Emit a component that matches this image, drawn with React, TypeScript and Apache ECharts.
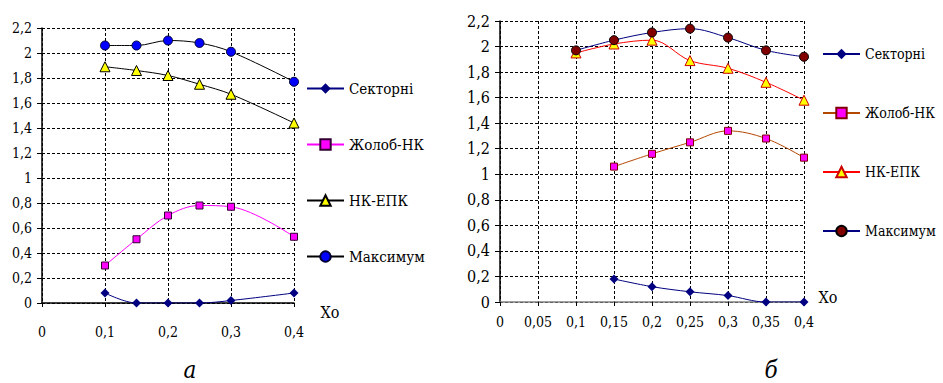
import React, { useEffect, useRef } from 'react';
import * as echarts from 'echarts';

const seriesNames = ['Секторні', 'Жолоб-НК', 'НК-ЕПК', 'Максимум'];

const xLeft = [0.1, 0.15, 0.2, 0.25, 0.3, 0.4];
const leftSektorni = [0.08, 0, 0, 0, 0.02, 0.08];
const leftZholob = [0.3, 0.51, 0.7, 0.78, 0.77, 0.53];
const leftNkEpk = [1.89, 1.86, 1.82, 1.75, 1.67, 1.44];
const leftMaksymum = [2.06, 2.06, 2.1, 2.08, 2.01, 1.77];

const xRight = [0.1, 0.15, 0.2, 0.25, 0.3, 0.35, 0.4];
const rightSektorni = [null, 0.18, 0.12, 0.08, 0.05, 0, 0];
const rightZholob = [null, 1.06, 1.16, 1.25, 1.34, 1.28, 1.13];
const rightNkEpk = [1.95, 2.02, 2.05, 1.89, 1.83, 1.72, 1.58];
const rightMaksymum = [1.97, 2.05, 2.11, 2.14, 2.07, 1.97, 1.92];

const axisTitle = 'Xo';
const panelLabels = ['а', 'б'];

const FONT = 'DejaVu Serif Condensed, DejaVu Serif';

const fmt = (v: number) => Number(v.toFixed(2)).toString().replace('.', ',');

const pairs = (xs: number[], ys: (number | null)[]) =>
  xs.map((x, i) => [x, ys[i]]).filter((p) => p[1] !== null);

type Style = {
  symbol: string;
  size: number;
  fill: string;
  border: string;
  borderWidth: number;
  line: string;
};

const makeSeries = (name: string, data: any[], s: Style) => ({
  type: 'line',
  name,
  data,
  smooth: 0.35,
  symbol: s.symbol,
  symbolSize: s.size,
  showSymbol: true,
  lineStyle: { color: s.line, width: 1 },
  itemStyle: { color: s.fill, borderColor: s.border, borderWidth: s.borderWidth },
  emphasis: { disabled: true },
  z: 3,
});

const dashed = { lineStyle: { color: '#000', type: [3, 2], width: 1 } };

function buildOption(cfg: {
  gridLeft: number; gridTop: number; gridWidth: number; gridHeight: number;
  xInterval: number; xAxisColor: string; yFont: number; xFont: number; xMargin: number;
  legendLeft: number; legendTop: number; legendGap: number; legendFont: number;
  series: any[]; graphic: any[];
}) {
  return {
    animation: false,
    backgroundColor: 'transparent',
    textStyle: { fontFamily: FONT },
    grid: { left: cfg.gridLeft, top: cfg.gridTop, width: cfg.gridWidth, height: cfg.gridHeight },
    xAxis: {
      type: 'value',
      min: 0,
      max: 0.4,
      interval: cfg.xInterval,
      axisLine: { show: true, onZero: false, lineStyle: { color: cfg.xAxisColor, width: 1.5 } },
      axisTick: { show: true, length: 4, lineStyle: { color: '#000' } },
      axisLabel: { formatter: fmt, fontFamily: FONT, fontSize: cfg.xFont, color: '#000', margin: cfg.xMargin, showMaxLabel: true, showMinLabel: true },
      splitLine: { show: true, ...dashed },
    },
    yAxis: {
      type: 'value',
      min: 0,
      max: 2.2,
      interval: 0.2,
      axisLine: { show: true, lineStyle: { color: '#000', width: 1.5 } },
      axisTick: { show: true, length: 5, lineStyle: { color: '#000' } },
      axisLabel: { formatter: fmt, fontFamily: FONT, fontSize: cfg.yFont, color: '#000', margin: 10 },
      splitLine: { show: true, ...dashed },
    },
    legend: {
      orient: 'vertical',
      left: cfg.legendLeft,
      top: cfg.legendTop,
      padding: 0,
      itemWidth: 37,
      itemHeight: 13,
      itemGap: cfg.legendGap,
      data: seriesNames,
      selectedMode: false,
      textStyle: { fontFamily: FONT, fontSize: cfg.legendFont, color: '#000' },
    },
    graphic: cfg.graphic,
    series: cfg.series,
  };
}

function Chart({ left, width, option }: { left: number; width: number; option: any }) {
  const ref = useRef<HTMLDivElement>(null);
  useEffect(() => {
    if (!ref.current) return;
    const chart = echarts.init(ref.current, undefined, { renderer: 'svg' });
    chart.setOption(option);
    return () => chart.dispose();
  }, []);
  return <div ref={ref} style={{ position: 'absolute', left, top: 0, width, height: 383 }} />;
}

export default function App() {
  const leftOption = buildOption({
    gridLeft: 42, gridTop: 28, gridWidth: 252, gridHeight: 275,
    xInterval: 0.1, xAxisColor: '#000', yFont: 14, xFont: 14, xMargin: 22,
    legendLeft: 306, legendTop: 81, legendGap: 41, legendFont: 15,
    series: [
      makeSeries(seriesNames[0], pairs(xLeft, leftSektorni), { symbol: 'diamond', size: 9, fill: '#000080', border: '#000080', borderWidth: 0, line: '#000080' }),
      makeSeries(seriesNames[1], pairs(xLeft, leftZholob), { symbol: 'rect', size: 7, fill: '#FF00FF', border: '#330033', borderWidth: 1, line: '#FF00FF' }),
      makeSeries(seriesNames[2], pairs(xLeft, leftNkEpk), { symbol: 'triangle', size: 10, fill: '#FFFF00', border: '#000', borderWidth: 1, line: '#000' }),
      makeSeries(seriesNames[3], pairs(xLeft, leftMaksymum), { symbol: 'circle', size: 9, fill: '#0000FF', border: '#000033', borderWidth: 1, line: '#000' }),
    ],
    graphic: [
      { type: 'text', x: 330, y: 312, style: { text: axisTitle, fontFamily: FONT, fontSize: 16, fill: '#000', textAlign: 'center', textVerticalAlign: 'middle' } },
      { type: 'text', x: 190, y: 370, style: { text: panelLabels[0], fontFamily: FONT, fontSize: 24, fontStyle: 'italic', fill: '#000', textAlign: 'center', textVerticalAlign: 'middle' } },
    ],
  });

  const rightOption = buildOption({
    gridLeft: 45, gridTop: 21, gridWidth: 304, gridHeight: 281,
    xInterval: 0.05, xAxisColor: '#808080', yFont: 16, xFont: 14, xMargin: 13,
    legendLeft: 367, legendTop: 47, legendGap: 45, legendFont: 14,
    series: [
      makeSeries(seriesNames[0], pairs(xRight, rightSektorni), { symbol: 'diamond', size: 9, fill: '#000080', border: '#000080', borderWidth: 0, line: '#000080' }),
      makeSeries(seriesNames[1], pairs(xRight, rightZholob), { symbol: 'rect', size: 7, fill: '#FF00FF', border: '#800000', borderWidth: 1, line: '#B34700' }),
      makeSeries(seriesNames[2], pairs(xRight, rightNkEpk), { symbol: 'triangle', size: 10, fill: '#FFFF00', border: '#CC0000', borderWidth: 1, line: '#FF0000' }),
      makeSeries(seriesNames[3], pairs(xRight, rightMaksymum), { symbol: 'circle', size: 9, fill: '#800000', border: '#000', borderWidth: 1, line: '#000080' }),
    ],
    graphic: [
      { type: 'text', x: 373, y: 297, style: { text: axisTitle, fontFamily: FONT, fontSize: 16, fill: '#000', textAlign: 'center', textVerticalAlign: 'middle' } },
      { type: 'text', x: 316, y: 370, style: { text: panelLabels[1], fontFamily: FONT, fontSize: 24, fontStyle: 'italic', fill: '#000', textAlign: 'center', textVerticalAlign: 'middle' } },
    ],
  });

  return (
    <div style={{ position: 'absolute', left: 0, top: 0, width: 943, height: 383, background: '#fff' }}>
      <Chart left={0} width={455} option={leftOption} />
      <Chart left={455} width={488} option={rightOption} />
    </div>
  );
}
